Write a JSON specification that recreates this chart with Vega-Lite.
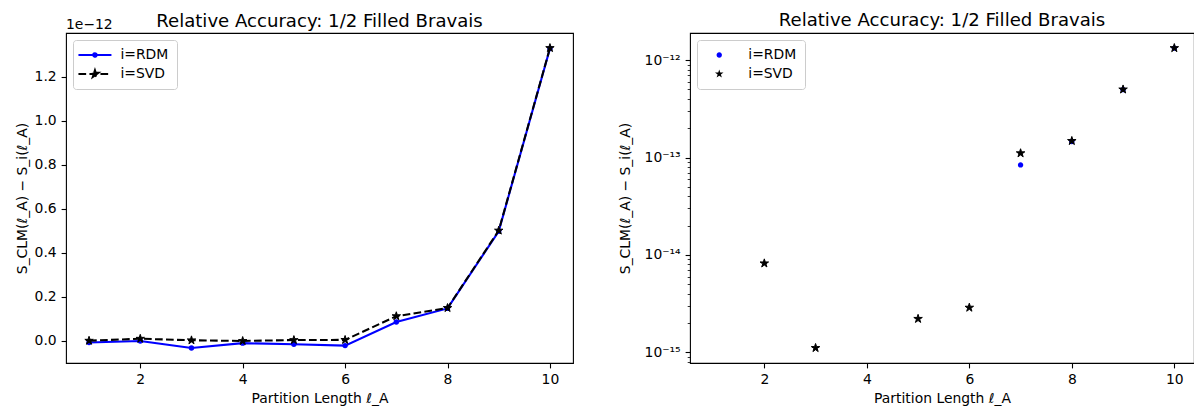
{
  "$schema": "https://vega.github.io/schema/vega-lite/v6.json",
  "background": "white",
  "autosize": {"type": "pad"},
  "padding": {"left": 14, "top": 11, "right": 0, "bottom": 0},
  "datasets": {
    "acc": [
      {"L": 1, "method": "i=RDM", "value": -9e-15},
      {"L": 2, "method": "i=RDM", "value": -2e-15},
      {"L": 3, "method": "i=RDM", "value": -3.4e-14},
      {"L": 4, "method": "i=RDM", "value": -1.2e-14},
      {"L": 5, "method": "i=RDM", "value": -1.7e-14},
      {"L": 6, "method": "i=RDM", "value": -2.3e-14},
      {"L": 7, "method": "i=RDM", "value": 8.4e-14},
      {"L": 8, "method": "i=RDM", "value": 1.46e-13},
      {"L": 9, "method": "i=RDM", "value": 4.97e-13},
      {"L": 10, "method": "i=RDM", "value": 1.328e-12},
      {"L": 1, "method": "i=SVD", "value": -8e-16},
      {"L": 2, "method": "i=SVD", "value": 8.2e-15},
      {"L": 3, "method": "i=SVD", "value": 1.11e-15},
      {"L": 4, "method": "i=SVD", "value": -2e-15},
      {"L": 5, "method": "i=SVD", "value": 2.21e-15},
      {"L": 6, "method": "i=SVD", "value": 2.88e-15},
      {"L": 7, "method": "i=SVD", "value": 1.107e-13},
      {"L": 8, "method": "i=SVD", "value": 1.48e-13},
      {"L": 9, "method": "i=SVD", "value": 5.0e-13},
      {"L": 10, "method": "i=SVD", "value": 1.33e-12}
    ]
  },
  "spacing": 117,
  "bounds": "flush",
  "hconcat": [
    {
      "width": 507,
      "height": 330,
      "title": {"text": "Relative Accuracy: 1/2 Filled Bravais", "frame": "group", "baseline": "alphabetic", "offset": -27},
      "layer": [
        {
          "data": {"name": "acc"},
          "transform": [{"filter": "datum.method === 'i=RDM'"}],
          "mark": {"type": "line", "strokeWidth": 2.08},
          "encoding": {
            "x": {
              "field": "L", "type": "quantitative",
              "scale": {"domain": [0.55, 10.45], "nice": false, "zero": false},
              "axis": {"values": [2, 4, 6, 8, 10], "format": "d", "title": "Partition Length ℓ_A"}
            },
            "y": {
              "field": "value", "type": "quantitative",
              "scale": {"domain": [-1.022e-13, 1.3982e-12], "nice": false, "zero": false},
              "axis": {
                "values": [0, 2e-13, 4e-13, 6e-13, 8e-13, 1e-12, 1.2e-12],
                "labelExpr": "format(datum.value * 1e12, '.1f')",
                "title": "S_CLM(ℓ_A) − S_i(ℓ_A)"
              }
            },
            "color": {
              "field": "method", "type": "nominal",
              "scale": {"domain": ["i=RDM", "i=SVD"], "range": ["#0000ff", "#000000"]},
              "legend": {
                "title": null, "orient": "top-left", "offset": 7,
                "symbolSize": 100, "symbolStrokeWidth": 2.08,
                "symbolOffset": 7, "labelOffset": 18.5,
                "encode": {
                  "symbols": {
                    "update": {
                      "shape": {"signal": "datum.value === 'i=RDM' ? 'M-3.3,0H3.3M-0.35,0A0.35,0.35 0 1,0 0.35,0A0.35,0.35 0 1,0 -0.35,0Z' : 'M-3.3,0H3.3M0,-0.7L0.1572,-0.2163L0.6658,-0.2163L0.2544,0.0826L0.4115,0.5663L0,0.2674L-0.4115,0.5663L-0.2544,0.0826L-0.6658,-0.2163L-0.1572,-0.2163Z'"},
                      "fill": {"signal": "datum.value === 'i=RDM' ? '#0000ff' : '#000000'"},
                      "stroke": {"signal": "datum.value === 'i=RDM' ? '#0000ff' : '#000000'"},
                      "strokeDash": {"signal": "datum.value === 'i=SVD' ? [7.7, 3.3] : [1, 0]"},
                      "strokeWidth": {"value": 2.08},
                      "size": {"value": 100},
                      "opacity": {"value": 1}
                    }
                  }
                }
              }
            }
          }
        },
        {
          "data": {"name": "acc"},
          "transform": [{"filter": "datum.method === 'i=RDM'"}],
          "mark": {"type": "point", "filled": true, "shape": "circle", "size": 29, "color": "#0000ff", "opacity": 1},
          "encoding": {
            "x": {"field": "L", "type": "quantitative"},
            "y": {"field": "value", "type": "quantitative"}
          }
        },
        {
          "data": {"name": "acc"},
          "transform": [{"filter": "datum.method === 'i=SVD'"}],
          "mark": {"type": "line", "strokeWidth": 2.08, "strokeDash": [7.7, 3.3]},
          "encoding": {
            "x": {"field": "L", "type": "quantitative"},
            "y": {"field": "value", "type": "quantitative"},
            "color": {"field": "method", "type": "nominal", "scale": {"domain": ["i=RDM", "i=SVD"], "range": ["#0000ff", "#000000"]}}
          }
        },
        {
          "data": {"name": "acc"},
          "transform": [{"filter": "datum.method === 'i=SVD'"}],
          "mark": {
            "type": "point", "filled": true, "opacity": 1, "size": 78,
            "shape": "M0,-1L0.2245,-0.309L0.9511,-0.309L0.3633,0.118L0.5878,0.809L0,0.382L-0.5878,0.809L-0.3633,0.118L-0.9511,-0.309L-0.2245,-0.309Z",
            "fill": "#000000", "stroke": "#000000", "strokeWidth": 1
          },
          "encoding": {
            "x": {"field": "L", "type": "quantitative"},
            "y": {"field": "value", "type": "quantitative"}
          }
        },
        {
          "data": {"values": [{"note": "1e−12"}]},
          "mark": {"type": "text", "align": "left", "baseline": "alphabetic", "dy": -4, "font": "DejaVu Sans", "fontSize": 13.9, "fill": "#000000"},
          "encoding": {
            "x": {"datum": 0.55, "type": "quantitative"},
            "y": {"datum": 1.3982e-12, "type": "quantitative"},
            "text": {"field": "note", "type": "nominal"}
          }
        }
      ]
    },
    {
      "width": 504,
      "height": 330,
      "title": {"text": "Relative Accuracy: 1/2 Filled Bravais", "frame": "group", "baseline": "alphabetic", "offset": -11},
      "encoding": {
        "x": {
          "field": "L", "type": "quantitative",
          "scale": {"domain": [0.55, 10.384], "nice": false, "zero": false},
          "axis": {"values": [2, 4, 6, 8, 10], "format": "d", "title": "Partition Length ℓ_A"}
        },
        "y": {
          "field": "value", "type": "quantitative",
          "scale": {"type": "log", "domain": [7.78e-16, 1.897e-12], "nice": false},
          "axis": {
            "values": [8e-16, 9e-16, 1e-15, 2e-15, 3e-15, 4e-15, 5e-15, 6e-15, 7e-15, 8e-15, 9e-15, 1e-14, 2e-14, 3e-14, 4e-14, 5e-14, 6e-14, 7e-14, 8e-14, 9e-14, 1e-13, 2e-13, 3e-13, 4e-13, 5e-13, 6e-13, 7e-13, 8e-13, 9e-13, 1e-12],
            "labelOverlap": false,
            "labelExpr": "abs(log(datum.value) / LN10 - round(log(datum.value) / LN10)) < 0.001 ? (round(log(datum.value) / LN10) == -12 ? '10⁻¹²' : round(log(datum.value) / LN10) == -13 ? '10⁻¹³' : round(log(datum.value) / LN10) == -14 ? '10⁻¹⁴' : '10⁻¹⁵') : ''",
            "tickSize": {"condition": {"test": "abs(log(datum.value) / LN10 - round(log(datum.value) / LN10)) < 0.001", "value": 4.9}, "value": 2.8},
            "tickWidth": {"condition": {"test": "abs(log(datum.value) / LN10 - round(log(datum.value) / LN10)) < 0.001", "value": 1.1}, "value": 0.8},
            "titlePadding": 12,
            "title": "S_CLM(ℓ_A) − S_i(ℓ_A)"
          }
        },
        "color": {
          "field": "method", "type": "nominal",
          "scale": {"domain": ["i=RDM", "i=SVD"], "range": ["#0000ff", "#000000"]},
          "legend": {
            "title": null, "orient": "top-left", "offset": 7,
            "symbolSize": 80, "symbolStrokeWidth": 1,
            "symbolOffset": 7.3, "labelOffset": 22.1,
            "encode": {"symbols": {"update": {"stroke": {"value": "#000000"}, "strokeWidth": {"signal": "datum.value === 'i=RDM' ? 0 : 1"}, "opacity": {"value": 1}}}}
          }
        },
        "shape": {
          "field": "method", "type": "nominal",
          "scale": {
            "domain": ["i=RDM", "i=SVD"],
            "range": [
              "M-0.6,0A0.6,0.6 0 1,0 0.6,0A0.6,0.6 0 1,0 -0.6,0Z",
              "M0,-1L0.2245,-0.309L0.9511,-0.309L0.3633,0.118L0.5878,0.809L0,0.382L-0.5878,0.809L-0.3633,0.118L-0.9511,-0.309L-0.2245,-0.309Z"
            ]
          },
          "legend": {
            "title": null, "orient": "top-left", "offset": 7,
            "symbolSize": 80, "symbolStrokeWidth": 1,
            "symbolOffset": 7.3, "labelOffset": 22.1,
            "encode": {"symbols": {"update": {"stroke": {"value": "#000000"}, "strokeWidth": {"signal": "datum.value === 'i=RDM' ? 0 : 1"}, "opacity": {"value": 1}}}}
          }
        }
      },
      "layer": [
        {
          "data": {"name": "acc"},
          "transform": [{"filter": "datum.method === 'i=RDM' && datum.value > 0"}],
          "mark": {"type": "point", "filled": true, "size": 80, "opacity": 1, "strokeWidth": 0}
        },
        {
          "data": {"name": "acc"},
          "transform": [{"filter": "datum.method === 'i=SVD' && datum.value > 0"}],
          "mark": {"type": "point", "filled": true, "size": 80, "opacity": 1, "stroke": "#000000", "strokeWidth": 1}
        }
      ]
    }
  ],
  "resolve": {
    "scale": {"x": "independent", "y": "independent", "color": "independent", "shape": "independent"},
    "legend": {"color": "independent", "shape": "independent"}
  },
  "config": {
    "font": "DejaVu Sans",
    "view": {"stroke": "#000000", "strokeWidth": 1.1},
    "title": {"font": "DejaVu Sans", "fontSize": 18.1, "fontWeight": "normal", "color": "#000000", "anchor": "middle"},
    "axis": {
      "domain": false, "grid": false,
      "tickColor": "#000000", "tickWidth": 1.1, "tickSize": 4.9,
      "labelFont": "DejaVu Sans", "labelFontSize": 13.9, "labelColor": "#000000", "labelPadding": 4.9, "labelFlush": false,
      "titleFont": "DejaVu Sans", "titleFontSize": 13.9, "titleFontWeight": "normal", "titleColor": "#000000"
    },
    "axisX": {"titlePadding": 5},
    "axisY": {"titlePadding": 5},
    "legend": {
      "labelFont": "DejaVu Sans", "labelFontSize": 13.9, "labelColor": "#000000",
      "fillColor": "rgba(255,255,255,0.8)", "strokeColor": "#cccccc", "cornerRadius": 3,
      "padding": 8, "rowPadding": 4
    }
  }
}
